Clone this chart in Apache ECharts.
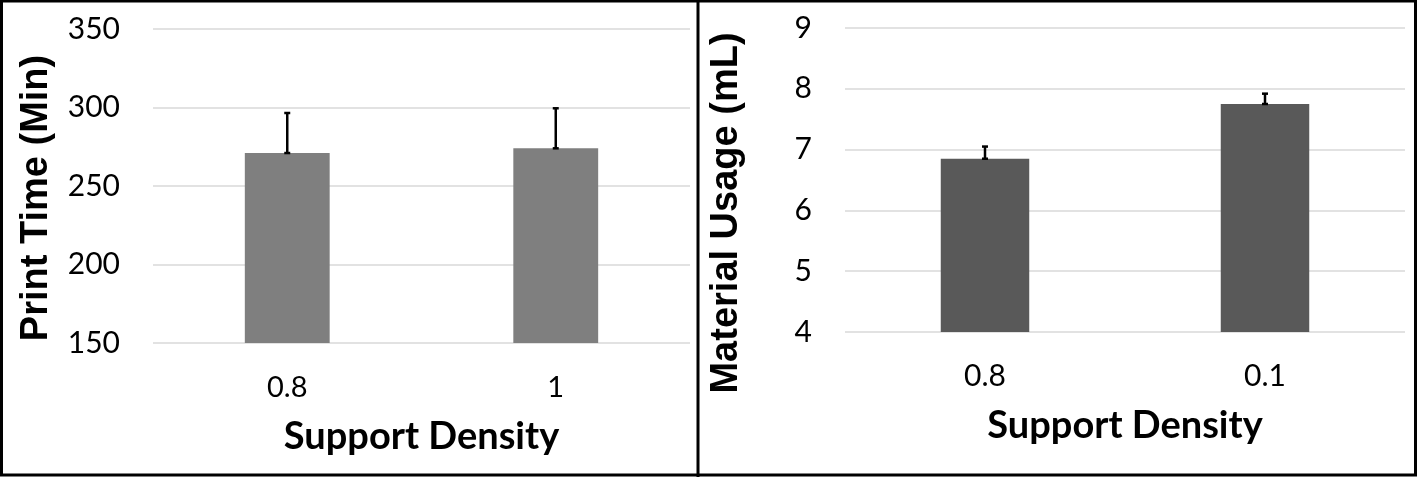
<!DOCTYPE html>
<html>
<head>
<meta charset="utf-8">
<script src="https://cdn.jsdelivr.net/npm/echarts@6/dist/echarts.min.js"></script>
<style>
html,body{margin:0;padding:0;background:#fff;}
#chart{width:1418px;height:477px;}
</style>
</head>
<body>
<div id="chart"></div>
<script>
// Left panel: Print time
var leftCategories = ['0.8', '1'];
var leftValues = [271, 274];
var leftErrors = [25.5, 25.5];
var leftTicks = [150, 200, 250, 300, 350];

// Right panel: Material usage
var rightCategories = ['0.8', '0.1'];
var rightValues = [6.85, 7.75];
var rightErrors = [0.2, 0.17];
var rightTicks = [4, 5, 6, 7, 8, 9];

var chart = echarts.init(document.getElementById('chart'));

function errData(vals, errs) {
  return vals.map(function (v, i) { return [i, v, v + errs[i]]; });
}

function errorRender(params, api) {
  var x = api.value(0);
  var lo = api.coord([x, api.value(1)]);
  var hi = api.coord([x, api.value(2)]);
  var cap = 3;
  var st = { stroke: '#000', lineWidth: 2.5 };
  return {
    type: 'group',
    children: [
      { type: 'line', shape: { x1: lo[0], y1: lo[1], x2: hi[0], y2: hi[1] }, style: st },
      { type: 'line', shape: { x1: hi[0] - cap, y1: hi[1], x2: hi[0] + cap, y2: hi[1] }, style: st },
      { type: 'line', shape: { x1: lo[0] - cap, y1: lo[1], x2: lo[0] + cap, y2: lo[1] }, style: st }
    ]
  };
}

var tickFont = 'Lato, "Open Sans", sans-serif';
var titleFont = '"Liberation Sans", Arial, sans-serif';

var option = {
  animation: false,
  backgroundColor: '#fff',
  grid: [
    { left: 153, right: 1418 - 690, top: 29, height: 314 },
    { left: 845, right: 1418 - 1405, top: 28, height: 304 }
  ],
  xAxis: [
    {
      gridIndex: 0, type: 'category', data: leftCategories,
      axisLine: { show: false }, axisTick: { show: false },
      axisLabel: { fontSize: 29, color: '#000', margin: 30, fontFamily: tickFont },
      name: 'Support Density', nameLocation: 'middle', nameGap: 75,
      nameTextStyle: { fontSize: 38, fontWeight: 'bold', color: '#000', fontFamily: tickFont }
    },
    {
      gridIndex: 1, type: 'category', data: rightCategories,
      axisLine: { show: false }, axisTick: { show: false },
      axisLabel: { fontSize: 30, color: '#000', margin: 29, fontFamily: tickFont },
      name: 'Support Density', nameLocation: 'middle', nameGap: 75,
      nameTextStyle: { fontSize: 38, fontWeight: 'bold', color: '#000', fontFamily: tickFont }
    }
  ],
  yAxis: [
    {
      gridIndex: 0, type: 'value', min: leftTicks[0], max: leftTicks[leftTicks.length - 1], interval: 50,
      axisLine: { show: false }, axisTick: { show: false },
      axisLabel: { fontSize: 30, color: '#000', margin: 33, fontFamily: tickFont },
      splitLine: { lineStyle: { color: '#d9d9d9', width: 1.5 } },
      name: 'Print Time (Min)', nameLocation: 'middle', nameGap: 97, nameRotate: 90,
      nameTextStyle: { fontSize: 38, fontWeight: 'bold', color: '#000', fontFamily: titleFont, padding: [0, 24, 0, 0] }
    },
    {
      gridIndex: 1, type: 'value', min: rightTicks[0], max: rightTicks[rightTicks.length - 1], interval: 1,
      axisLine: { show: false }, axisTick: { show: false },
      axisLabel: { fontSize: 30, color: '#000', margin: 33, fontFamily: tickFont },
      splitLine: { lineStyle: { color: '#d9d9d9', width: 1.5 } },
      name: 'Material Usage (mL)', nameLocation: 'middle', nameGap: 99, nameRotate: 90,
      nameTextStyle: { fontSize: 38, fontWeight: 'bold', color: '#000', fontFamily: titleFont, padding: [0, 66, 0, 0] }
    }
  ],
  series: [
    {
      type: 'bar', xAxisIndex: 0, yAxisIndex: 0, data: leftValues,
      barWidth: '31.6%', itemStyle: { color: '#7f7f7f' }
    },
    {
      type: 'custom', xAxisIndex: 0, yAxisIndex: 0, data: errData(leftValues, leftErrors),
      renderItem: errorRender, z: 5
    },
    {
      type: 'bar', xAxisIndex: 1, yAxisIndex: 1, data: rightValues,
      barWidth: '31.6%', itemStyle: { color: '#595959' }
    },
    {
      type: 'custom', xAxisIndex: 1, yAxisIndex: 1, data: errData(rightValues, rightErrors),
      renderItem: errorRender, z: 5
    }
  ],
  graphic: [
    { type: 'rect', shape: { x: 1.5, y: 1, width: 1414, height: 474 }, style: { fill: null, stroke: '#000', lineWidth: 3 }, z: 100 },
    { type: 'line', shape: { x1: 698, y1: 0, x2: 698, y2: 477 }, style: { stroke: '#000', lineWidth: 3 }, z: 100 }
  ]
};
chart.setOption(option);
</script>
</body>
</html>
